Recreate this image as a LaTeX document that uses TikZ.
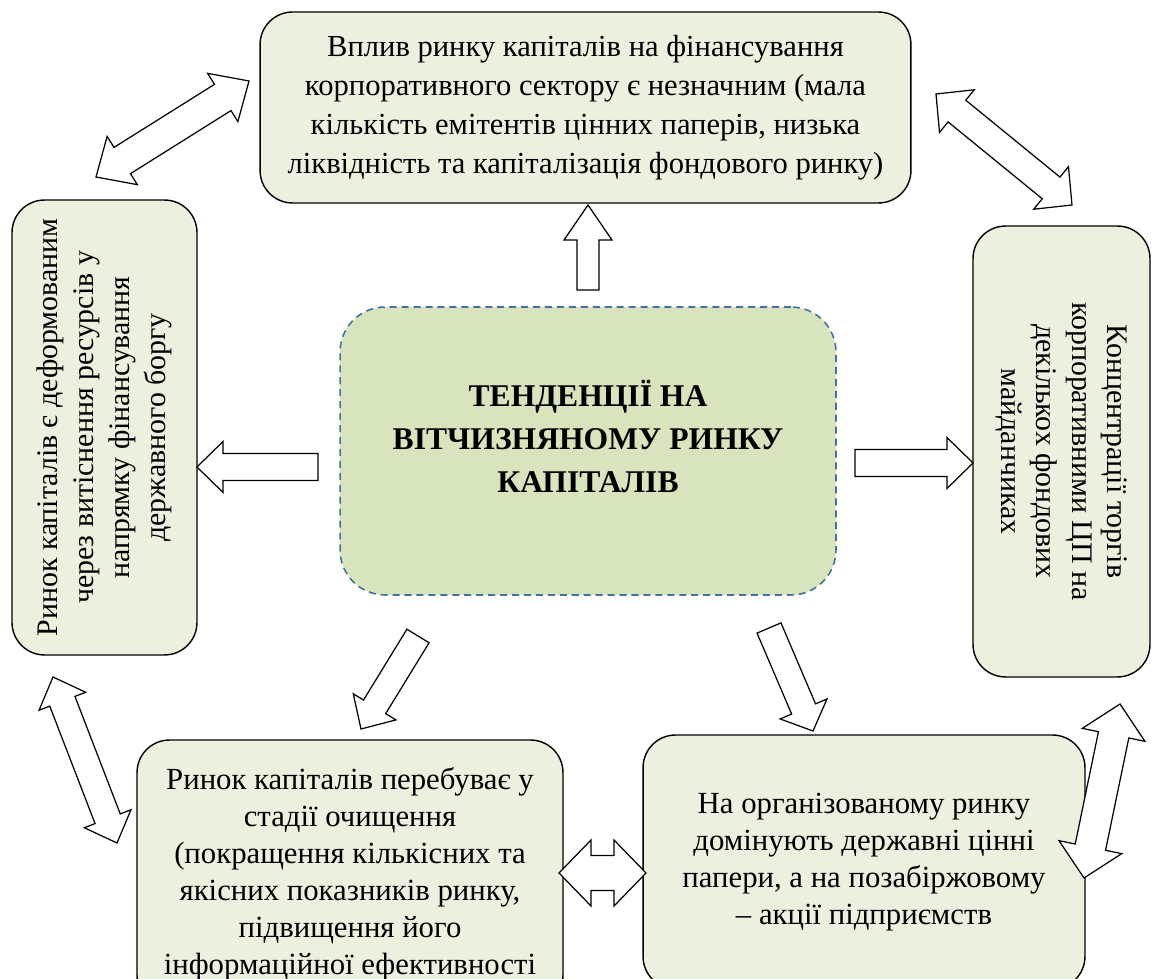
\documentclass[tikz,border=0pt]{standalone}
\usepackage{fontspec}
\setmainfont{Liberation Serif}
\usetikzlibrary{calc}

\definecolor{boxfill}{HTML}{EBF1DE}
\definecolor{mainfill}{HTML}{D7E4BD}
\definecolor{mainline}{HTML}{41719C}

\tikzset{
  box/.style={draw, line width=0.8pt, fill=boxfill, rounded corners=0.65cm,
    align=center, inner sep=0pt, font=\fontsize{17.4}{22.2}\selectfont},
  lowbox/.style={box, font=\fontsize{17.5}{21.1}\selectfont},
  sidebox/.style={box, font=\fontsize{17}{20.6}\selectfont},
  mainbox/.style={draw=mainline, dash pattern=on 4pt off 2.8pt, line width=0.9pt,
    fill=mainfill, rounded corners=0.9cm, align=center, inner sep=0pt,
    font=\fontsize{18}{24.5}\selectfont\bfseries},
  blockline/.style={draw, fill=white, line width=0.7pt, line join=miter}
}

% block arrow: tail, tip, half shaft, half head, head length
\newcommand{\onearrow}[5]{%
  \draw[blockline] ($(#1)!#3!90:(#2)$) -- ($(#2)!#5!(#1)!#3!-90:(#1)$)
    -- ($(#2)!#5!(#1)!#4!-90:(#1)$) -- (#2) -- ($(#2)!#5!(#1)!#4!90:(#1)$)
    -- ($(#2)!#5!(#1)!#3!90:(#1)$) -- ($(#1)!#3!-90:(#2)$) -- cycle;}
% double block arrow: tip, tip, half shaft, half head, head length
\newcommand{\twoarrow}[5]{%
  \draw[blockline] (#1) -- ($(#1)!#5!(#2)!#4!90:(#2)$) -- ($(#1)!#5!(#2)!#3!90:(#2)$)
    -- ($(#2)!#5!(#1)!#3!-90:(#1)$) -- ($(#2)!#5!(#1)!#4!-90:(#1)$) -- (#2)
    -- ($(#2)!#5!(#1)!#4!90:(#1)$) -- ($(#2)!#5!(#1)!#3!90:(#1)$)
    -- ($(#1)!#5!(#2)!#3!-90:(#2)$) -- ($(#1)!#5!(#2)!#4!-90:(#2)$) -- cycle;}

\begin{document}
\begin{tikzpicture}[x=0.02cm, y=-0.02cm]
  \clip (0,0) rectangle (1152,979);

  \node[mainbox, minimum width=9.92cm, minimum height=5.76cm] (trend) at (588,451)
    {ТЕНДЕНЦІЇ НА\\ ВІТЧИЗНЯНОМУ РИНКУ\\ КАПІТАЛІВ\\[-7.5pt]\mbox{}};
  \node[box, minimum width=13.02cm, minimum height=3.82cm] (influence) at (585.5,107.5)
    {Вплив ринку капіталів на фінансування\\ корпоративного сектору є незначним (мала\\
     кількість емітентів цінних паперів, низька\\ ліквідність та капіталізація фондового ринку)};
  \node[sidebox, rotate=90, minimum width=9.1cm, minimum height=3.7cm] (deformed) at (104.5,427.5)
    {Ринок капіталів є деформованим\\ через витіснення ресурсів у\\ напрямку фінансування\\ державного боргу};
  \node[sidebox, rotate=-90, minimum width=9.02cm, minimum height=3.54cm,
    font=\fontsize{17}{20}\selectfont] (concentr) at (1061.5,451.5)
    {Концентрації торгів\\ корпоративними ЦП на\\ декількох фондових\\ майданчиках};
  \node[lowbox, minimum width=8.52cm, minimum height=5.36cm] (cleaning) at (350,874)
    {Ринок капіталів перебуває у\\ стадії очищення\\ (покращення кількісних та\\
     якісних показників ринку,\\ підвищення його\\ інформаційної ефективності};
  \node[lowbox, minimum width=8.84cm, minimum height=5.08cm] (organized) at (864,862)
    {На організованому ринку\\ домінують державні цінні\\ папери, а на позабіржовому\\ – акції підприємств};

  \coordinate (upA) at (588,290);   \coordinate (upB) at (588,205);
  \coordinate (leA) at (318,467);   \coordinate (leB) at (197,467);
  \coordinate (riA) at (855,463);   \coordinate (riB) at (973,463);
  \coordinate (dlA) at (418,636);   \coordinate (dlB) at (361,729);
  \coordinate (drA) at (769,628);   \coordinate (drB) at (813,731);
  \coordinate (boA) at (559,873);   \coordinate (boB) at (646,873);
  \coordinate (tlA) at (96,177);    \coordinate (tlB) at (249,81);
  \coordinate (trA) at (936,94);    \coordinate (trB) at (1072,205);
  \coordinate (blA) at (53,677);    \coordinate (blB) at (117,843);
  \coordinate (brA) at (1120,704);  \coordinate (brB) at (1084,878);

  \onearrow{upA}{upB}{0.22cm}{0.48cm}{0.7cm}
  \onearrow{leA}{leB}{0.27cm}{0.51cm}{0.52cm}
  \onearrow{riA}{riB}{0.27cm}{0.51cm}{0.52cm}
  \onearrow{dlA}{dlB}{0.26cm}{0.5cm}{0.52cm}
  \onearrow{drA}{drB}{0.26cm}{0.51cm}{0.48cm}
  \twoarrow{boA}{boB}{0.35cm}{0.66cm}{0.64cm}
  \twoarrow{tlA}{tlB}{0.31cm}{0.57cm}{0.62cm}
  \twoarrow{trA}{trB}{0.28cm}{0.55cm}{0.54cm}
  \twoarrow{blA}{blB}{0.27cm}{0.5cm}{0.52cm}
  \twoarrow{brA}{brB}{0.31cm}{0.64cm}{0.63cm}
\end{tikzpicture}
\end{document}
